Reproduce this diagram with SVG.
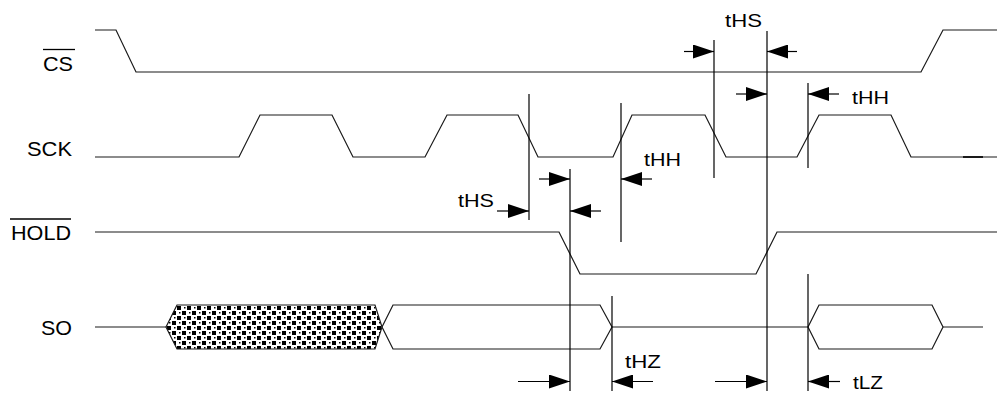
<svg xmlns="http://www.w3.org/2000/svg" width="997" height="393" viewBox="0 0 997 393">
<style>
.w{fill:none;stroke:#1a1a1a;stroke-width:1.2;stroke-linejoin:miter}
.v{stroke:#000;stroke-width:1.2}
.a{stroke:#000;stroke-width:1.2;marker-end:url(#ah)}
.lbl{font-family:"Liberation Sans",Arial,sans-serif;font-size:21px;fill:#000}
.t{font-family:"Liberation Sans",Arial,sans-serif;font-size:19px;fill:#000}
.ov{stroke:#000;stroke-width:1.3}
</style>
<defs>
<marker id="ah" markerUnits="userSpaceOnUse" markerWidth="22" markerHeight="14" refX="21" refY="7" orient="auto">
<path d="M0,0 L21,7 L0,14 z" fill="#000"/>
</marker>
<pattern id="hatch" patternUnits="userSpaceOnUse" width="10" height="10" x="177" y="306">
<rect width="10" height="10" fill="#fff"/>
<rect x="0" y="0" width="4" height="4" fill="#000"/>
<rect x="5" y="5" width="4" height="4" fill="#000"/>
<rect x="7" y="1" width="1.5" height="1.5" fill="#000"/>
<rect x="2" y="6" width="1.5" height="1.5" fill="#000"/>
</pattern>
</defs>

<g id="cs">
<text class="lbl" x="43" y="71" textLength="30" lengthAdjust="spacingAndGlyphs">CS</text>
<line class="ov" x1="43" y1="49.5" x2="75" y2="49.5"/>
<polyline class="w" points="95,30 116,30 136,72 921,72 943,30 997,30"/>
</g>

<g id="sck">
<text class="lbl" x="27" y="156" textLength="45" lengthAdjust="spacingAndGlyphs">SCK</text>
<polyline class="w" points="95,157 239,157 260,115 332,115 353,157 425,157 447,115 518,115 538,157 613,157 632,115 705,115 726,157 797,157 819,115 891,115 911,157 997,157"/>
<line x1="963" y1="157" x2="983" y2="157" stroke="#1a1a1a" stroke-width="2"/>
</g>

<g id="hold">
<text class="lbl" x="11" y="240" textLength="60" lengthAdjust="spacingAndGlyphs">HOLD</text>
<line class="ov" x1="10" y1="219" x2="71" y2="219"/>
<polyline class="w" points="95,232 559,232 580,274 756,274 777,232 997,232"/>
</g>

<g id="so">
<text class="lbl" x="41" y="335" textLength="31" lengthAdjust="spacingAndGlyphs">SO</text>
<line class="w" x1="95" y1="327" x2="166" y2="327"/>
<polygon points="166,327 177,305 375,305 382,327 375,349 177,349" fill="url(#hatch)" stroke="#1a1a1a" stroke-width="1.2"/>
<polygon class="w" points="382,327 393,305 600,305 612,327 600,349 393,349"/>
<line class="w" x1="612" y1="327" x2="808" y2="327"/>
<polygon class="w" points="808,327 819,305 932,305 943,327 932,349 819,349"/>
<line class="w" x1="943" y1="327" x2="983" y2="327"/>
</g>

<g id="connectors">
<line class="v" x1="529" y1="94" x2="529" y2="220"/>
<line class="v" x1="570" y1="169" x2="570" y2="391"/>
<line class="v" x1="621" y1="103" x2="621" y2="242"/>
<line class="v" x1="714" y1="40" x2="714" y2="178"/>
<line class="v" x1="767" y1="31" x2="767" y2="391"/>
<line class="v" x1="808" y1="83" x2="808" y2="168"/>
<line class="v" x1="612" y1="296" x2="612" y2="391"/>
<line class="v" x1="808" y1="274" x2="808" y2="391"/>

<line class="a" x1="684" y1="51.5" x2="714" y2="51.5"/>
<line class="a" x1="797" y1="51.5" x2="767" y2="51.5"/>
<line class="a" x1="736" y1="94" x2="767" y2="94"/>
<line class="a" x1="839" y1="94" x2="808" y2="94"/>
<line class="a" x1="539" y1="179" x2="570" y2="179"/>
<line class="a" x1="652" y1="179" x2="621" y2="179"/>
<line class="a" x1="497" y1="211" x2="529" y2="211"/>
<line class="a" x1="601" y1="211" x2="570" y2="211"/>
<line class="a" x1="518" y1="381.5" x2="570" y2="381.5"/>
<line class="a" x1="653" y1="381.5" x2="612" y2="381.5"/>
<line class="a" x1="715" y1="381.5" x2="767" y2="381.5"/>
<line class="a" x1="840" y1="381.5" x2="808" y2="381.5"/>

<text class="t" x="725" y="27" textLength="37" lengthAdjust="spacingAndGlyphs">tHS</text>
<text class="t" x="852" y="104" textLength="37" lengthAdjust="spacingAndGlyphs">tHH</text>
<text class="t" x="644" y="166" textLength="37" lengthAdjust="spacingAndGlyphs">tHH</text>
<text class="t" x="458" y="207" textLength="36" lengthAdjust="spacingAndGlyphs">tHS</text>
<text class="t" x="625" y="368" textLength="36" lengthAdjust="spacingAndGlyphs">tHZ</text>
<text class="t" x="853" y="389" textLength="30" lengthAdjust="spacingAndGlyphs">tLZ</text>
</g>
</svg>
